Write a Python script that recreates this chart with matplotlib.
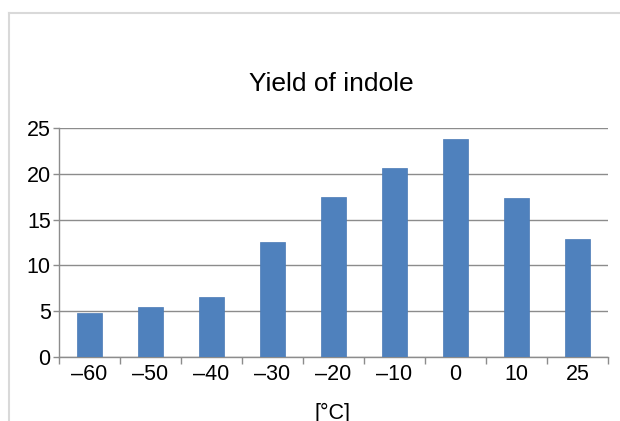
import matplotlib.pyplot as plt
from matplotlib.lines import Line2D

# chart data
temps = ['\u201360', '\u201350', '\u201340', '\u201330', '\u201320', '\u201310', '0', '10', '25']
yields = [4.8, 5.5, 6.6, 12.55, 17.5, 20.6, 23.8, 17.4, 12.9]
y_ticks = [0, 5, 10, 15, 20, 25]

plt.rcParams['font.family'] = ['Liberation Sans', 'DejaVu Sans']

W, H = 620, 421
fig = plt.figure(figsize=(W / 100, H / 100), dpi=100)
ax = fig.add_axes([59 / W, 1 - 357 / H, (608 - 59) / W, (357 - 128) / H])

x = list(range(len(temps)))
ax.bar(x, yields, width=0.4, color='#4f81bd', edgecolor='#4a7ab5', linewidth=0.5, zorder=3)

ax.set_xlim(-0.5, len(temps) - 0.5)
ax.set_ylim(0, 25)
ax.set_yticks(y_ticks)
ax.set_yticklabels([str(v) for v in y_ticks], fontsize=15.5)
ax.set_xticks(x)
ax.set_xticklabels(temps, fontsize=15.5)
ax.tick_params(axis='x', length=0, pad=5)
ax.tick_params(axis='y', length=4, color='#8c8c8c', width=1, pad=2)
# category separator ticks
ax.set_xticks([i - 0.5 for i in range(len(temps) + 1)], minor=True)
ax.tick_params(axis='x', which='minor', length=5, color='#8c8c8c', width=1)

ax.grid(axis='y', color='#8c8c8c', linewidth=1, zorder=0)
for s in ['top', 'right']:
    ax.spines[s].set_visible(False)
for s in ['left', 'bottom']:
    ax.spines[s].set_color('#8c8c8c')
    ax.spines[s].set_linewidth(1)

fig.text(331 / W, 1 - 84 / H, 'Yield of indole', ha='center', va='center', fontsize=19)
fig.text(332 / W, 1 - 413 / H, '[\u00b0C]', ha='center', va='center', fontsize=15.5)

# outer chart frame (partially visible)
fig.add_artist(Line2D([9 / W, 1], [1 - 13 / H, 1 - 13 / H], color='#d9d9d9', linewidth=1.5))
fig.add_artist(Line2D([9 / W, 9 / W], [0, 1 - 13 / H], color='#d9d9d9', linewidth=1.5))

fig.savefig('out.png', dpi=100)
